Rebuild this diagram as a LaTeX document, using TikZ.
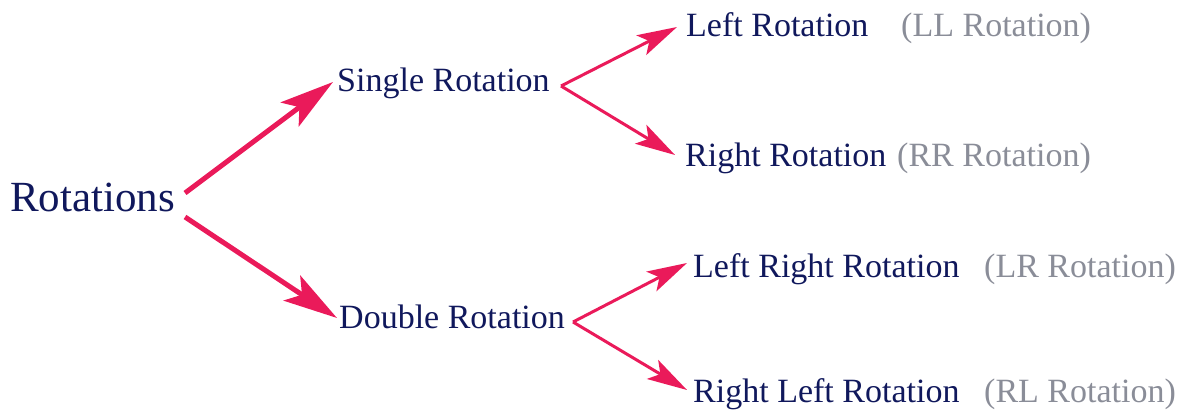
\documentclass[tikz,border=0pt]{standalone}
\usepackage{fontspec}
\setmainfont{Liberation Serif}
\usetikzlibrary{arrows.meta}
\definecolor{navy}{RGB}{16,24,92}
\definecolor{pinkarrow}{RGB}{234,26,90}
\definecolor{greytext}{RGB}{138,141,152}
\begin{document}
\begin{tikzpicture}[x=1pt,y=-1pt,
  lbl/.style={inner sep=0pt,anchor=base west,text=navy,font=\fontsize{34}{40}\selectfont},
  note/.style={inner sep=0pt,anchor=base west,text=greytext,font=\fontsize{34}{40}\selectfont},
  bigarrow/.style={draw=pinkarrow,line width=5pt,-{Stealth[length=54pt,width=30pt,inset=12pt]}},
  smallarrow/.style={draw=pinkarrow,line width=3pt,-{Stealth[length=40pt,width=22pt,inset=9pt]}}]
\useasboundingbox (0,0) rectangle (1185,411);
\node[lbl,font=\fontsize{43}{48}\selectfont] (rot) at (10,212) {Rotations};
\node[lbl] (single) at (337,92) {Single Rotation};
\node[lbl] (double) at (339,328) {Double Rotation};
\node[lbl] (ll) at (686,37) {Left Rotation};
\node[lbl] (rr) at (685,167) {Right Rotation};
\node[lbl] (lr) at (693,278) {Left Right Rotation};
\node[lbl] (rl) at (693,402) {Right Left Rotation};
\node[note] (llnote) at (901,37) {(LL Rotation)};
\node[note] (rrnote) at (897,167) {(RR Rotation)};
\node[note] (lrnote) at (984,278) {(LR Rotation)};
\node[note] (rlnote) at (984,402) {(RL Rotation)};
\draw[bigarrow] ([shift={(175,-19)}]rot.base west) -- ([shift={(-4,-10)}]single.base west);
\draw[bigarrow] ([shift={(175,5)}]rot.base west) -- ([shift={(-2,-10)}]double.base west);
\draw[smallarrow] ([shift={(224,-6)}]single.base west) -- ([shift={(-9,-10)}]ll.base west);
\draw[smallarrow] ([shift={(224,-6)}]single.base west) -- ([shift={(-10,-12)}]rr.base west);
\draw[smallarrow] ([shift={(234,-6)}]double.base west) -- ([shift={(-6,-15)}]lr.base west);
\draw[smallarrow] ([shift={(234,-6)}]double.base west) -- ([shift={(-6,-12)}]rl.base west);
\end{tikzpicture}
\end{document}
